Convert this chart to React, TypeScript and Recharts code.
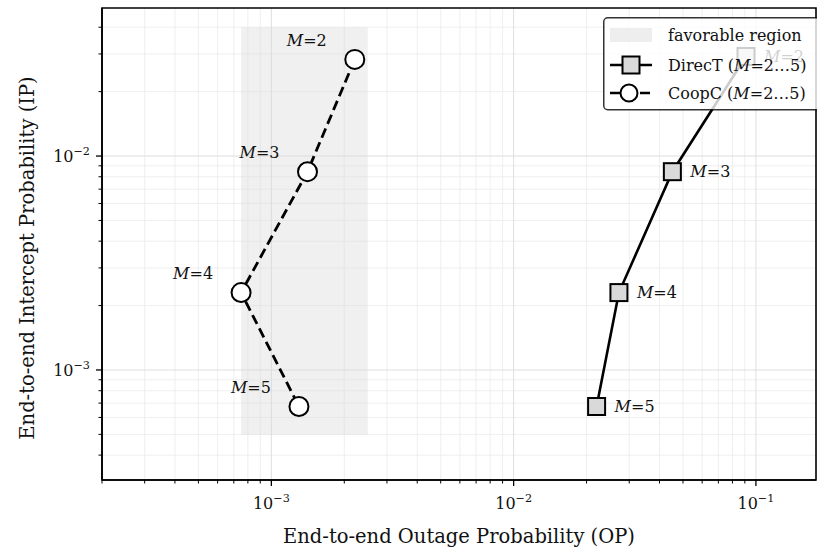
import React from 'react';
import { ScatterChart, Scatter, XAxis, YAxis, CartesianGrid, ReferenceArea, Legend } from 'recharts';

const mValues = [2, 3, 4, 5];
const opDirecT = [0.091, 0.0452, 0.0272, 0.022];
const ipDirecT = [0.0292, 0.00845, 0.0023, 0.000675];
const opCoopC = [0.00221, 0.00141, 0.00075, 0.0013];
const ipCoopC = [0.0283, 0.00845, 0.0023, 0.000675];

const favorableOP = [0.00075, 0.0025];
const favorableIP = [0.0005, 0.04];

const xDomain = [0.0002, 0.177];
const yDomain = [0.000306, 0.0492];

const xMajorTicks = [0.001, 0.01, 0.1];
const xMinorTicks = [
  0.0002, 0.0003, 0.0004, 0.0005, 0.0006, 0.0007, 0.0008, 0.0009,
  0.002, 0.003, 0.004, 0.005, 0.006, 0.007, 0.008, 0.009,
  0.02, 0.03, 0.04, 0.05, 0.06, 0.07, 0.08, 0.09,
];
const yMajorTicks = [0.001, 0.01];
const yMinorTicks = [
  0.0004, 0.0005, 0.0006, 0.0007, 0.0008, 0.0009,
  0.002, 0.003, 0.004, 0.005, 0.006, 0.007, 0.008, 0.009,
  0.02, 0.03, 0.04,
];

const xTitle = 'End-to-end Outage Probability  (OP)';
const yTitle = 'End-to-end Intercept Probability  (IP)';
const directLabel = 'DirecT';
const coopLabel = 'CoopC';
const regionLabel = 'favorable region';

const FONT = '"DejaVu Serif", serif';
const INK = '#111';

const directData = mValues.map((m, i) => ({ x: opDirecT[i], y: ipDirecT[i], m }));
const coopData = mValues.map((m, i) => ({ x: opCoopC[i], y: ipCoopC[i], m }));

const sortNum = (a: number[]) => [...a].sort((p, q) => p - q);

const expOf = (v: number) => Math.round(Math.log10(v));

const XTick = (props: any) => {
  const { x, y, payload } = props;
  const v = payload.value;
  const major = xMajorTicks.includes(v);
  return (
    <g>
      <line x1={x} x2={x} y1={y} y2={y + (major ? 6 : 3.5)} stroke="#000" strokeWidth={major ? 1.3 : 1} />
      {major && (
        <text x={x} y={y + 29} textAnchor="middle" fontFamily={FONT} fontSize={16} fill={INK}>
          10<tspan dy={-7} fontSize={11.2}>{'\u2212' + Math.abs(expOf(v))}</tspan>
        </text>
      )}
    </g>
  );
};

const YTick = (props: any) => {
  const { x, y, payload } = props;
  const v = payload.value;
  const major = yMajorTicks.includes(v);
  return (
    <g>
      <line x1={x} x2={x - (major ? 6 : 3.5)} y1={y} y2={y} stroke="#000" strokeWidth={major ? 1.3 : 1} />
      {major && (
        <text x={x - 12} y={y + 6} textAnchor="end" fontFamily={FONT} fontSize={16} fill={INK}>
          10<tspan dy={-7} fontSize={11.2}>{'\u2212' + Math.abs(expOf(v))}</tspan>
        </text>
      )}
    </g>
  );
};

const MLabel = ({ x, y, anchor, m }: any) => (
  <text x={x} y={y} textAnchor={anchor} fontFamily={FONT} fontSize={16} fill={INK}>
    <tspan fontStyle="italic">M</tspan>={m}
  </text>
);

const SquareShape = (props: any) => {
  const { cx, cy, payload } = props;
  return (
    <g>
      <rect x={cx - 8.5} y={cy - 8.5} width={17} height={17} fill="#d9d9d9" stroke="#000" strokeWidth={2} />
      <MLabel x={cx + 18} y={cy + 5.5} anchor="start" m={payload.m} />
    </g>
  );
};

const CircleShape = (props: any) => {
  const { cx, cy, payload } = props;
  return (
    <g>
      <circle cx={cx} cy={cy} r={9.5} fill="#fff" stroke="#000" strokeWidth={2} />
      <MLabel x={cx - 48} y={cy - 13.5} anchor="middle" m={payload.m} />
    </g>
  );
};

const XTitle = (props: any) => {
  const vb = props.viewBox || { x: 102, y: 480, width: 714, height: 72 };
  return (
    <text x={vb.x + vb.width / 2} y={vb.y + 63} textAnchor="middle" fontFamily={FONT} fontSize={19.5} fill={INK}>
      {xTitle}
    </text>
  );
};

const YTitle = (props: any) => {
  const vb = props.viewBox || { x: 0, y: 8, width: 102, height: 472 };
  const cx = vb.x + 34;
  const cy = vb.y + vb.height / 2 + 14;
  return (
    <text x={cx} y={cy} textAnchor="middle" fontFamily={FONT} fontSize={19.5} fill={INK} transform={`rotate(-90 ${cx} ${cy})`}>
      {yTitle}
    </text>
  );
};

const LegendBox = () => (
  <svg width={220} height={96} style={{ display: 'block', overflow: 'visible' }}>
    <rect x={0.75} y={0.75} width={240} height={92} rx={4} fill="rgba(255,255,255,0.8)" stroke="rgba(0,0,0,0.8)" strokeWidth={1.5} />
    <rect x={7} y={11} width={42} height={14} fill="#d9d9d9" fillOpacity={0.45} />
    <text x={65} y={23.5} fontFamily={FONT} fontSize={16} fill={INK}>{regionLabel}</text>
    <line x1={7} x2={49} y1={48} y2={48} stroke="#000" strokeWidth={2.6} />
    <rect x={19.5} y={39.5} width={17} height={17} fill="#d9d9d9" stroke="#000" strokeWidth={2} />
    <text x={65} y={53.5} fontFamily={FONT} fontSize={16} fill={INK}>
      {directLabel} (<tspan fontStyle="italic">M</tspan>=2…5)
    </text>
    <line x1={7} x2={49} y1={76} y2={76} stroke="#000" strokeWidth={2.6} strokeDasharray="10 5" />
    <circle cx={26} cy={76} r={8.5} fill="#fff" stroke="#000" strokeWidth={2} />
    <text x={65} y={81.5} fontFamily={FONT} fontSize={16} fill={INK}>
      {coopLabel} (<tspan fontStyle="italic">M</tspan>=2…5)
    </text>
  </svg>
);

export default function App() {
  return (
    <div style={{ position: 'absolute', left: 0, top: 0, width: 817, height: 552, overflow: 'hidden', background: '#fff' }}>
      <ScatterChart width={817} height={552} margin={{ top: 8, right: 1, bottom: 0, left: 0 }}>
        <CartesianGrid stroke="#ebebeb" strokeWidth={0.8} horizontalValues={yMinorTicks} verticalValues={xMinorTicks} />
        <CartesianGrid stroke="#dadada" strokeWidth={0.9} horizontalValues={yMajorTicks} verticalValues={xMajorTicks} />
        <XAxis
          type="number"
          dataKey="x"
          scale="log"
          domain={xDomain}
          allowDataOverflow
          ticks={sortNum([...xMajorTicks, ...xMinorTicks])}
          interval={0}
          height={72}
          tickSize={0}
          tickMargin={0}
          tickLine={false}
          tick={<XTick />}
          axisLine={{ stroke: '#000', strokeWidth: 1.6 }}
          label={<XTitle />}
        />
        <YAxis
          type="number"
          dataKey="y"
          scale="log"
          domain={yDomain}
          allowDataOverflow
          ticks={sortNum([...yMajorTicks, ...yMinorTicks])}
          interval={0}
          width={102}
          tickSize={0}
          tickMargin={0}
          tickLine={false}
          tick={<YTick />}
          axisLine={{ stroke: '#000', strokeWidth: 1.6 }}
          label={<YTitle />}
        />
        <ReferenceArea
          x1={favorableOP[0]}
          x2={favorableOP[1]}
          y1={favorableIP[0]}
          y2={favorableIP[1]}
          fill="#d9d9d9"
          fillOpacity={0.4}
          stroke="none"
          ifOverflow="visible"
        />
        <ReferenceArea
          x1={xDomain[0]}
          x2={xDomain[1]}
          y1={yDomain[0]}
          y2={yDomain[1]}
          fill="none"
          stroke="#000"
          strokeWidth={1.6}
          ifOverflow="visible"
        />
        <Scatter
          name={directLabel}
          data={directData}
          line={{ stroke: '#000', strokeWidth: 2.6 }}
          lineType="joint"
          shape={<SquareShape />}
          isAnimationActive={false}
        />
        <Scatter
          name={coopLabel}
          data={coopData}
          line={{ stroke: '#000', strokeWidth: 2.8, strokeDasharray: '10 5' }}
          lineType="joint"
          shape={<CircleShape />}
          isAnimationActive={false}
        />
        <Legend
          layout="horizontal"
          verticalAlign="middle"
          align="center"
          wrapperStyle={{ left: 603, top: 17, width: 220, height: 96 }}
          content={() => <LegendBox />}
        />
      </ScatterChart>
    </div>
  );
}
